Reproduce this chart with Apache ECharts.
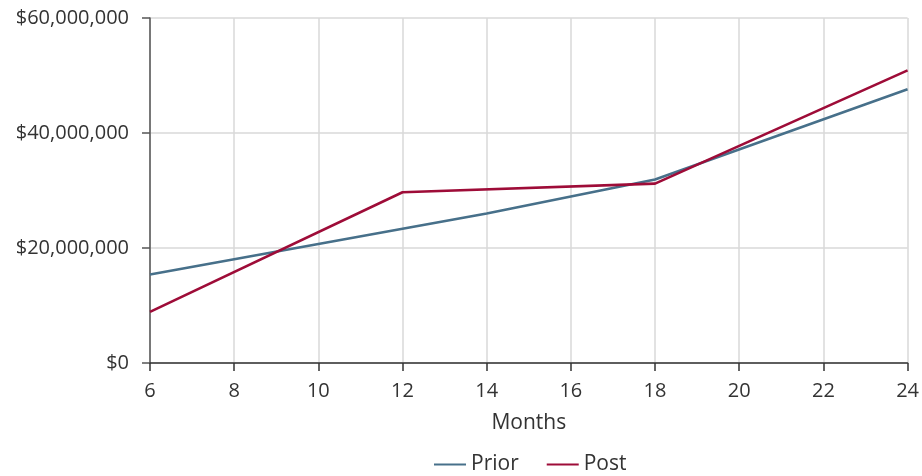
<!DOCTYPE html>
<html>
<head>
<meta charset="utf-8">
<script src="https://cdn.jsdelivr.net/npm/echarts@6/dist/echarts.min.js"></script>
<style>html,body{margin:0;padding:0;background:#fff}#c{width:922px;height:476px}</style>
</head>
<body>
<div id="c"></div>
<script>
const months = [6, 8, 10, 12, 14, 16, 18, 20, 22, 24];
const priorMonths = [6, 14, 18, 24];
const priorValues = [15400000, 26000000, 31900000, 47600000];
const postMonths = [6, 12, 18, 24];
const postValues = [8900000, 29700000, 31200000, 50900000];
const seriesNames = ['Prior', 'Post'];
const xAxisTitle = 'Months';

const FONT = 'Open Sans';
const chart = echarts.init(document.getElementById('c'), null, {renderer: 'canvas'});
chart.setOption({
  animation: false,
  backgroundColor: '#ffffff',
  textStyle: {fontFamily: FONT},
  grid: {left: 150, right: 14, top: 18, bottom: 113, containLabel: false},
  legend: {
    top: 449, left: 429, itemWidth: 32, itemHeight: 2, itemGap: 28,
    icon: 'rect',
    textStyle: {fontFamily: FONT, fontSize: 21, color: '#333'},
    data: seriesNames
  },
  xAxis: {
    type: 'value', min: 6, max: 24, interval: 2,
    name: xAxisTitle, nameLocation: 'middle', nameGap: 50,
    nameTextStyle: {fontFamily: FONT, fontSize: 21, color: '#333'},
    axisLine: {show: true, lineStyle: {color: '#333', width: 1.5}},
    axisTick: {show: true, length: 8, lineStyle: {color: '#333', width: 1.5}},
    axisLabel: {margin: 18, fontSize: 20, color: '#333', fontFamily: FONT},
    splitLine: {show: true, lineStyle: {color: '#d9d9d9', width: 1.5}}
  },
  yAxis: {
    type: 'value', min: 0, max: 60000000, interval: 20000000,
    axisLine: {show: true, lineStyle: {color: '#555', width: 1.5}},
    axisTick: {show: true, length: 8, lineStyle: {color: '#555', width: 1.5}},
    axisLabel: {
      margin: 21, fontSize: 20, color: '#333', fontFamily: FONT,
      formatter: v => '$' + v.toLocaleString('en-US')
    },
    splitLine: {show: true, lineStyle: {color: '#d9d9d9', width: 1.5}}
  },
  series: [
    {
      name: seriesNames[0], type: 'line', showSymbol: false, symbol: 'none',
      color: '#47708a', lineStyle: {width: 2.6, color: '#47708a'},
      data: priorMonths.map((m, i) => [m, priorValues[i]])
    },
    {
      name: seriesNames[1], type: 'line', showSymbol: false, symbol: 'none',
      color: '#9e0c38', lineStyle: {width: 2.6, color: '#9e0c38'},
      data: postMonths.map((m, i) => [m, postValues[i]])
    }
  ]
});
</script>
</body>
</html>
